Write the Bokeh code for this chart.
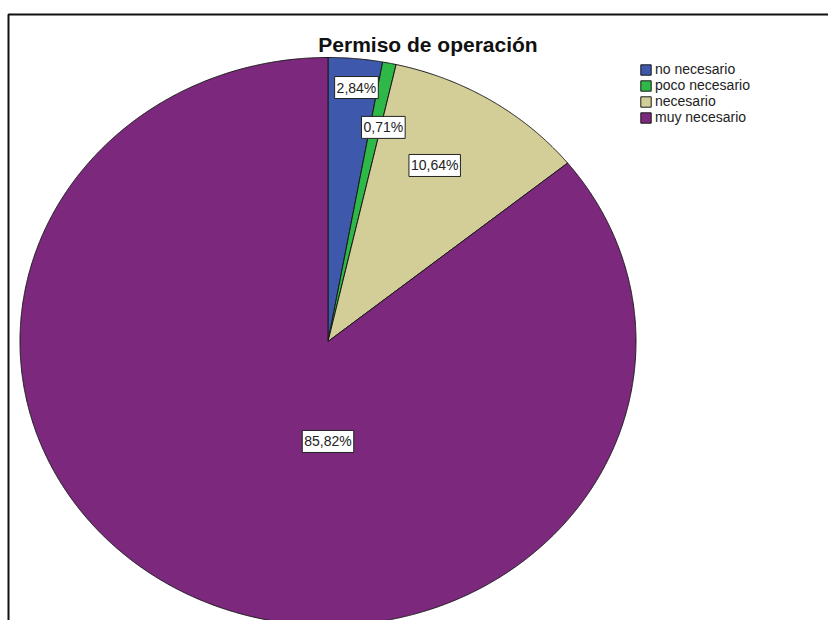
import numpy as np
from bokeh.plotting import figure
from bokeh.models import ColumnDataSource, Legend, LegendItem, Label, Range1d
from bokeh.embed import file_html
from bokeh.resources import INLINE

# ---- data ----
title_text = "Permiso de operación"
categories = ["no necesario", "poco necesario", "necesario", "muy necesario"]
percentages = [2.84, 0.71, 10.64, 85.82]
colors = ["#3E58AC", "#2EB848", "#D3CE97", "#7C287D"]

# ---- layout (pixels) ----
W, H = 828, 620
RX, RY = 308, 284            # ellipse radii in px
CX, CY = 327.5, 341          # pie centre (px from top-left)
label_angle_deg = [5.9, 13.4, 29.2, 180.0]
label_radius = [0.899, 0.775, 0.71, 0.352]


def dx(px):
    return (px - CX) / RX


def dy(py):
    return (CY - py) / RY


p = figure(width=W, height=H, output_backend="svg", toolbar_location=None,
           x_range=Range1d(dx(0), dx(W)), y_range=Range1d(dy(H), dy(0)),
           x_axis_type=None, y_axis_type=None,
           min_border_left=0, min_border_top=0,
           min_border_right=0, min_border_bottom=0)
p.xgrid.visible = False
p.ygrid.visible = False
p.outline_line_color = None
p.background_fill_color = "white"
p.border_fill_color = "white"

# outer frame (left and top edges visible, the rest runs off the page)
p.line(x=[dx(8), dx(8), dx(W + 20)], y=[dy(H + 20), dy(14), dy(14)],
       line_color="#111111", line_width=2)

total = sum(percentages)
cum = np.concatenate([[0.0], np.cumsum(percentages)]) / total * 2 * np.pi
xs, ys = [], []
for a0, a1 in zip(cum[:-1], cum[1:]):
    n = max(int((a1 - a0) * 300), 10)
    t = np.linspace(a0, a1, n)
    xs.append([0.0] + list(np.sin(t)) + [0.0])
    ys.append([0.0] + list(np.cos(t)) + [0.0])

src = ColumnDataSource(dict(xs=xs, ys=ys, color=colors, cat=categories))
r = p.patches("xs", "ys", fill_color="color", line_color="#1a1a1a",
              line_width=1, source=src)

# percentage labels
for v, ang, rad in zip(percentages, label_angle_deg, label_radius):
    a = np.deg2rad(ang)
    txt = f"{v:.2f}".replace(".", ",") + "%"
    p.add_layout(Label(x=rad * np.sin(a), y=rad * np.cos(a), text=txt,
                       text_align="center", text_baseline="middle",
                       text_font="Liberation Sans", text_font_size="14px",
                       text_color="#222222",
                       background_fill_color="white",
                       border_line_color="#222222", border_line_width=1,
                       padding=(2, 3)))

# title inside the frame
p.add_layout(Label(x=dx(427.5), y=dy(44), text=title_text,
                   text_align="center", text_baseline="middle",
                   text_font="Liberation Sans", text_font_style="bold",
                   text_font_size="21px", text_color="#111111"))

items = [LegendItem(label=c, renderers=[r], index=i) for i, c in enumerate(categories)]
legend = Legend(items=items, location=(639, 495), padding=0, margin=0,
                spacing=0, glyph_width=13, glyph_height=13, label_standoff=3,
                label_text_font="Liberation Sans", label_text_font_size="14px",
                label_text_color="#222222", label_height=14,
                border_line_color=None, background_fill_alpha=0)
p.add_layout(legend, "center")

open("out.html", "w").write(file_html(p, INLINE))
